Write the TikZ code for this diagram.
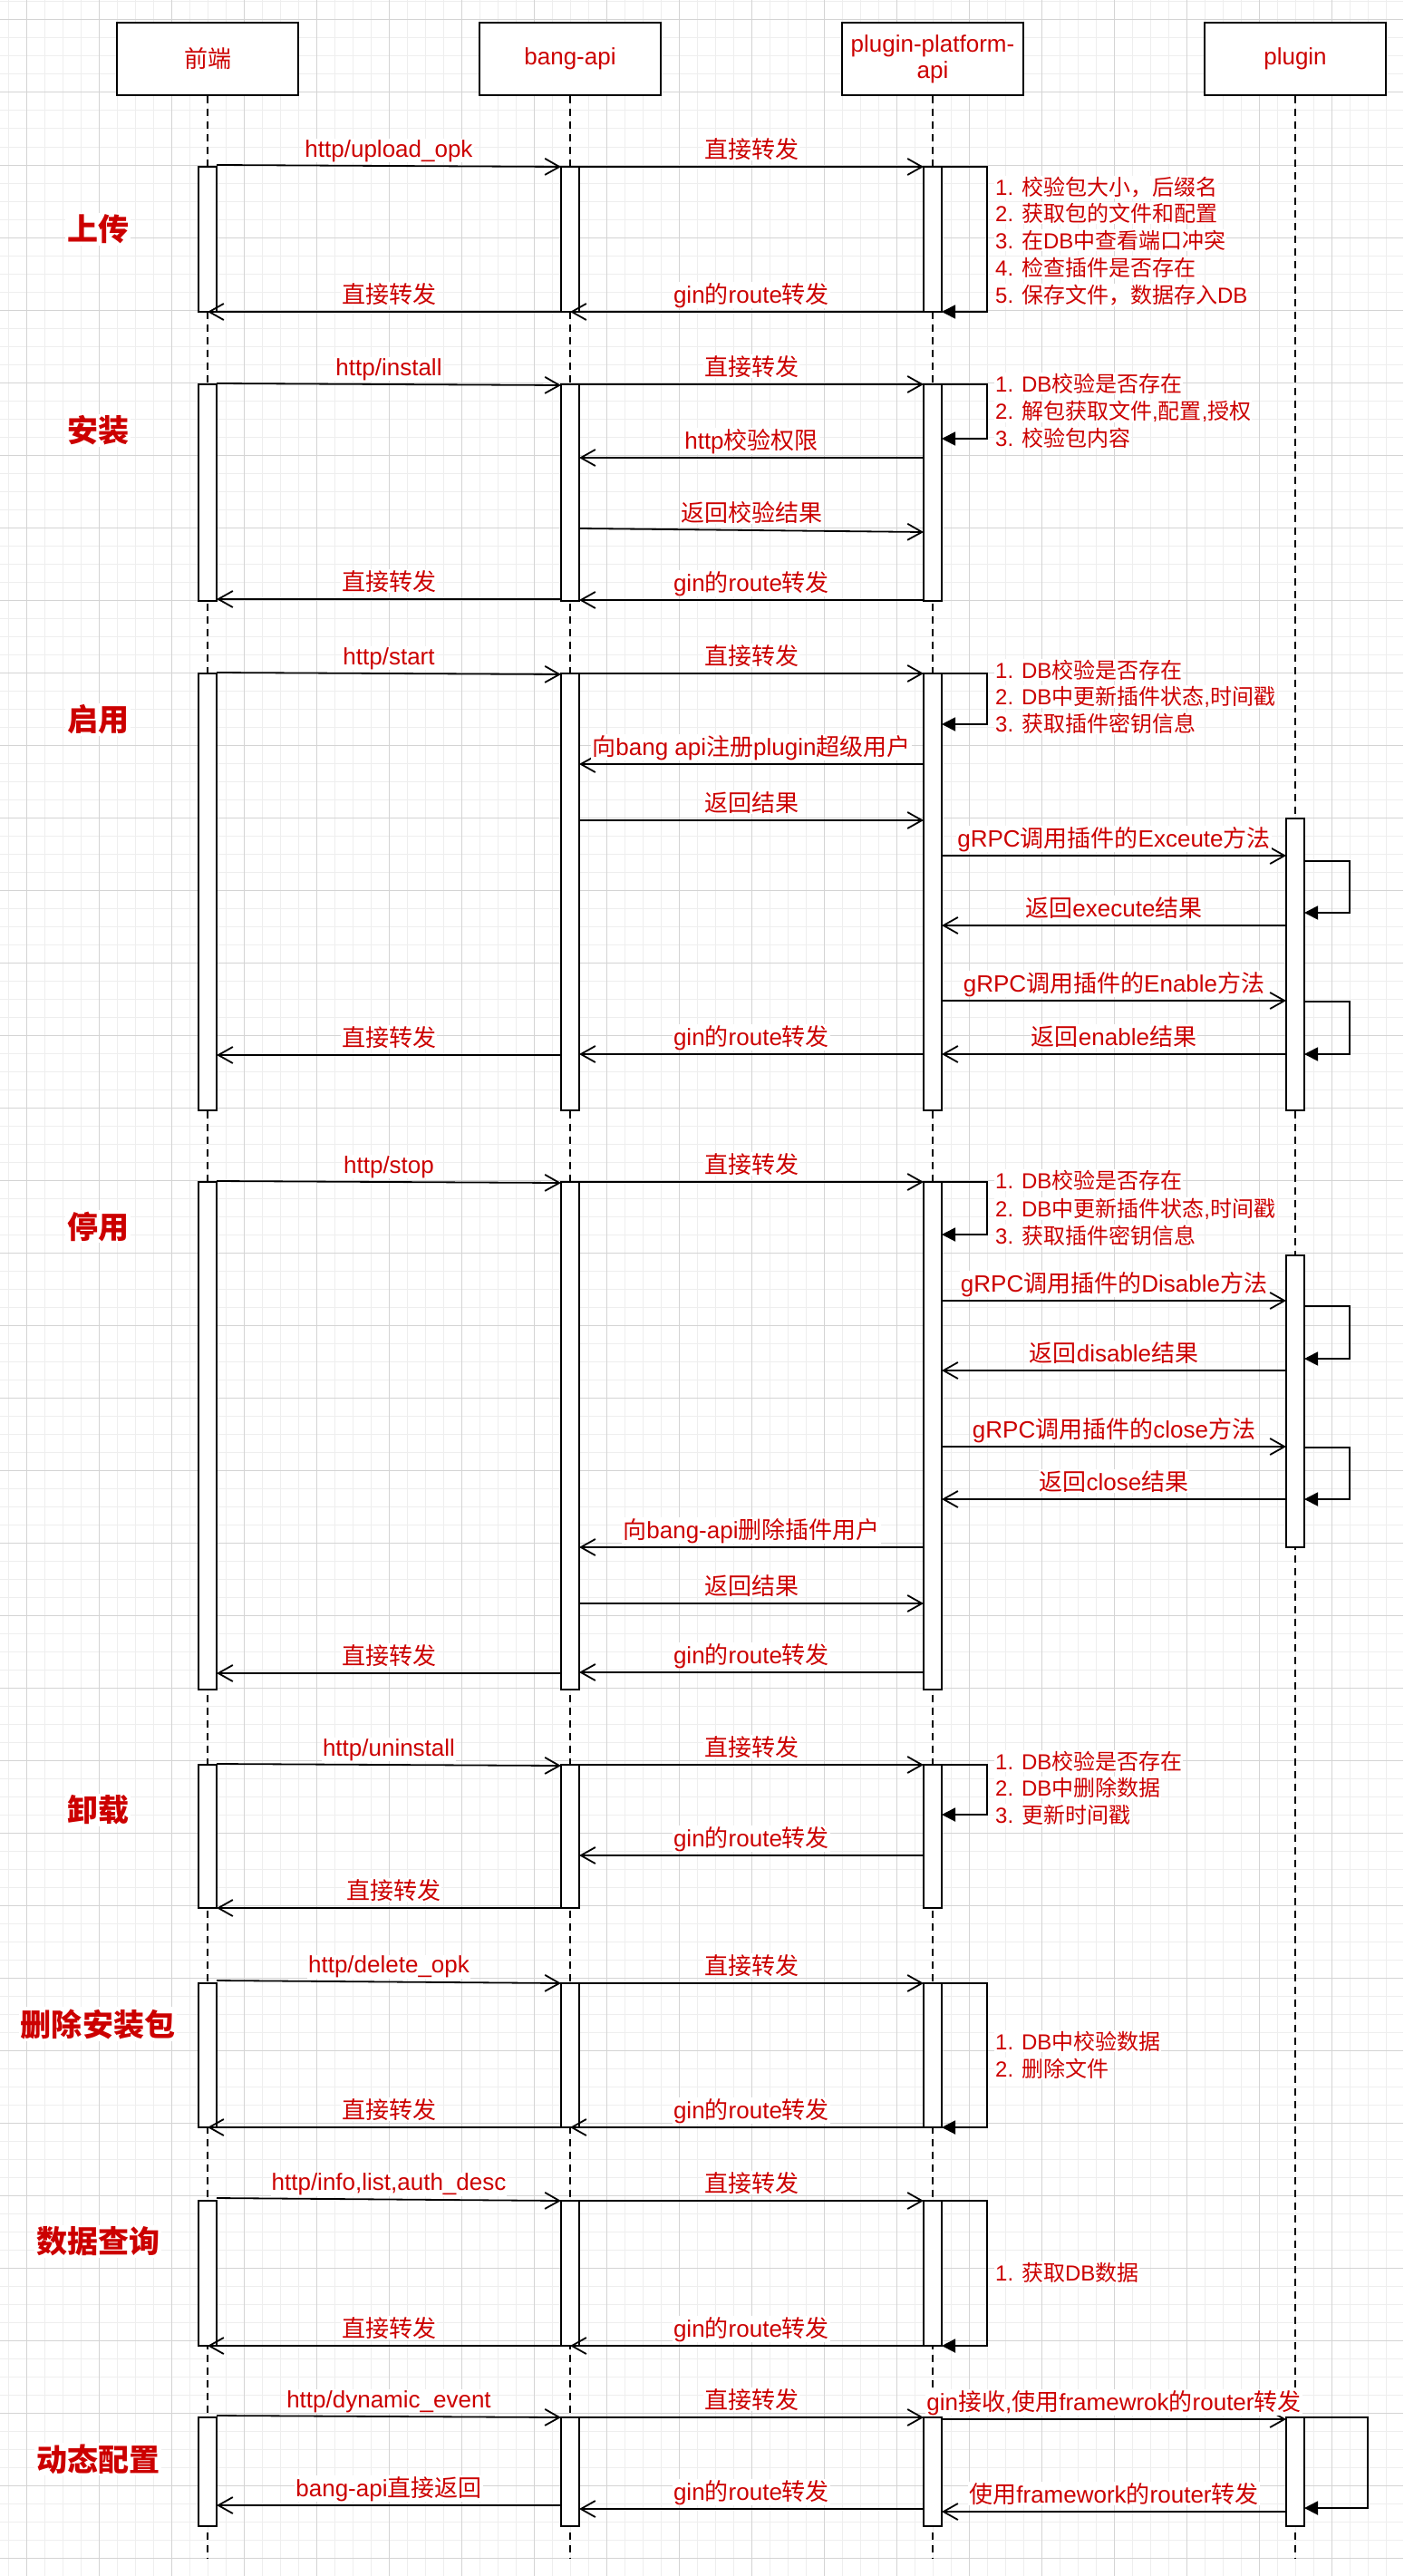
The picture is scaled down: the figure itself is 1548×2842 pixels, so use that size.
\documentclass[tikz,border=0pt]{standalone}
\usepackage{fontspec}
\setmainfont{Liberation Sans}
\newfontfamily\cjk{Noto Sans CJK SC}
\usetikzlibrary{arrows.meta}
\definecolor{txtred}{HTML}{CC0000}
\definecolor{gridmin}{HTML}{EEEEEE}
\definecolor{gridmaj}{HTML}{D4D4D4}
\newcommand\zh[1]{{\cjk #1}}
\newcommand\actbar[4]{\node[actbar, minimum height={#4pt-#3pt}] (#1) at (#2,#3) {};}
\newcommand\selfloop[4]{\draw[selfc] (#1.east |- 0,#2) -- ++(#4,0) |- (#1.east |- 0,#3);}
\begin{document}
\begin{tikzpicture}[x=1pt,y=-1pt,
  hdr/.style={draw=black, line width=1.8pt, fill=white, minimum width=200pt, minimum height=80pt, inner sep=0pt, text=txtred, font=\fontsize{26}{29}\selectfont, align=center},
  life/.style={draw=black, dash pattern=on 8pt off 6pt, line width=1.5pt},
  actbar/.style={draw=black, line width=1.8pt, fill=white, minimum width=20pt, inner sep=0pt, outer sep=0pt, anchor=north},
  msg/.style={draw=black, line width=1.8pt, -{Straight Barb[length=16pt,width=18pt]}},
  selfc/.style={draw=black, line width=1.8pt, -{Triangle[length=15pt,width=15pt]}},
  lbl/.style={fill=white, text=txtred, font=\fontsize{26}{30}\selectfont, inner sep=1pt, anchor=base, yshift=10pt},
  note/.style={fill=white, text=txtred, font=\fontsize{24}{30}\selectfont, inner sep=1pt, anchor=base west},
  sect/.style={fill=white, text=txtred, font=\fontsize{34}{40}\selectfont\bfseries, inner sep=2pt},
  gmin/.style={draw=gridmin, line width=1pt},
  gmaj/.style={draw=gridmaj, line width=1pt}
]
\useasboundingbox (0,0) rectangle (1548,2842);
\fill[white] (0,0) rectangle (1548,2842);
% grid
\foreach \x in {9,29,...,1548} \draw[gmin] (\x,0) -- (\x,2842);
\foreach \y in {2,22,...,2842} \draw[gmin] (0,\y) -- (1548,\y);
\foreach \x in {29,109,...,1548} \draw[gmaj] (\x,0) -- (\x,2842);
\foreach \y in {22,102,...,2842} \draw[gmaj] (0,\y) -- (1548,\y);

% headers
\node[hdr] (h1) at (229,65) {\zh{前端}};
\node[hdr] (h2) at (629,65) {bang-api};
\node[hdr] (h3) at (1029,65) {plugin-platform-\\api};
\node[hdr] (h4) at (1429,65) {plugin};
\coordinate (e1) at (229,2822);
\coordinate (e2) at (629,2822);
\coordinate (e3) at (1029,2822);
\coordinate (e4) at (1429,2822);
\draw[life] (h1.south) -- (e1);
\draw[life] (h2.south) -- (e2);
\draw[life] (h3.south) -- (e3);
\draw[life] (h4.south) -- (e4);

% section titles
\node[sect] (T1) at (108,253) {\zh{上传}};
\node[sect] (T2) at (108,475) {\zh{安装}};
\node[sect] (T3) at (108,794) {\zh{启用}};
\node[sect] (T4) at (108,1353) {\zh{停用}};
\node[sect] (T5) at (108,1997) {\zh{卸载}};
\node[sect] (T6) at (108,2233) {\zh{删除安装包}};
\node[sect] (T7) at (108,2473) {\zh{数据查询}};
\node[sect] (T8) at (108,2713) {\zh{动态配置}};

% ===== upload =====
\actbar{u1}{229}{184}{344}
\actbar{u2}{629}{184}{344}
\actbar{u3}{1029}{184}{344}
\draw[msg] (u1.east |- 0,182) -- node[lbl] (lu1) {http/upload\_opk} (u2.west |- 0,184);
\draw[msg] (u2.east |- 0,184) -- node[lbl] (lu2) {\zh{直接转发}} (u3.west |- 0,184);
\selfloop{u3}{184}{344}{50}
\node[note] (nu1) at (1097,215) {1. \zh{校验包大小，后缀名}};
\node[note] (nu2) at (1097,244) {2. \zh{获取包的文件和配置}};
\node[note] (nu3) at (1097,274) {3. \zh{在}DB\zh{中查看端口冲突}};
\node[note] (nu4) at (1097,304) {4. \zh{检查插件是否存在}};
\node[note] (nu5) at (1097,334) {5. \zh{保存文件，数据存入}DB};
\draw[msg] (u3.south) -- node[lbl] (lu3) {gin\zh{的}route\zh{转发}} (u2.south);
\draw[msg] (u2.south) -- node[lbl] (lu4) {\zh{直接转发}} (u1.south);

% ===== install =====
\actbar{i1}{229}{424}{663}
\actbar{i2}{629}{424}{663}
\actbar{i3}{1029}{424}{663}
\draw[msg] (i1.east |- 0,423) -- node[lbl] (li1) {http/install} (i2.west |- 0,425);
\draw[msg] (i2.east |- 0,424) -- node[lbl] (li2) {\zh{直接转发}} (i3.west |- 0,424);
\selfloop{i3}{424}{484}{50}
\node[note] (ni1) at (1097,432) {1. DB\zh{校验是否存在}};
\node[note] (ni2) at (1097,462) {2. \zh{解包获取文件}{,}\zh{配置}{,}\zh{授权}};
\node[note] (ni3) at (1097,492) {3. \zh{校验包内容}};
\draw[msg] (i3.west |- 0,505) -- node[lbl] (li3) {http\zh{校验权限}} (i2.east |- 0,505);
\draw[msg] (i2.east |- 0,583) -- node[lbl] (li4) {\zh{返回校验结果}} (i3.west |- 0,587);
\draw[msg] (i3.west |- 0,662) -- node[lbl] (li5) {gin\zh{的}route\zh{转发}} (i2.east |- 0,662);
\draw[msg] (i2.west |- 0,661) -- node[lbl] (li6) {\zh{直接转发}} (i1.east |- 0,661);

% ===== start =====
\actbar{s1}{229}{743}{1225}
\actbar{s2}{629}{743}{1225}
\actbar{s3}{1029}{743}{1225}
\actbar{s4}{1429}{903}{1225}
\draw[msg] (s1.east |- 0,742) -- node[lbl] (ls1) {http/start} (s2.west |- 0,744);
\draw[msg] (s2.east |- 0,743) -- node[lbl] (ls2) {\zh{直接转发}} (s3.west |- 0,743);
\selfloop{s3}{743}{799}{50}
\node[note] (ns1) at (1097,748) {1. DB\zh{校验是否存在}};
\node[note] (ns2) at (1097,777) {2. DB\zh{中更新插件状态}{,}\zh{时间戳}};
\node[note] (ns3) at (1097,807) {3. \zh{获取插件密钥信息}};
\draw[msg] (s3.west |- 0,843) -- node[lbl] (ls3) {\zh{向}bang api\zh{注册}plugin\zh{超级用户}} (s2.east |- 0,843);
\draw[msg] (s2.east |- 0,905) -- node[lbl] (ls4) {\zh{返回结果}} (s3.west |- 0,905);
\draw[msg] (s3.east |- 0,944) -- node[lbl] (ls5) {gRPC\zh{调用插件的}Exceute\zh{方法}} (s4.west |- 0,944);
\selfloop{s4}{950}{1007}{50}
\draw[msg] (s4.west |- 0,1021) -- node[lbl] (ls6) {\zh{返回}execute\zh{结果}} (s3.east |- 0,1021);
\draw[msg] (s3.east |- 0,1104) -- node[lbl] (ls7) {gRPC\zh{调用插件的}Enable\zh{方法}} (s4.west |- 0,1104);
\selfloop{s4}{1105}{1163}{50}
\draw[msg] (s4.west |- 0,1163) -- node[lbl] (ls8) {\zh{返回}enable\zh{结果}} (s3.east |- 0,1163);
\draw[msg] (s3.west |- 0,1163) -- node[lbl] (ls9) {gin\zh{的}route\zh{转发}} (s2.east |- 0,1163);
\draw[msg] (s2.west |- 0,1164) -- node[lbl] (ls10) {\zh{直接转发}} (s1.east |- 0,1164);

% ===== stop =====
\actbar{p1}{229}{1304}{1864}
\actbar{p2}{629}{1304}{1864}
\actbar{p3}{1029}{1304}{1864}
\actbar{p4}{1429}{1385}{1707}
\draw[msg] (p1.east |- 0,1303) -- node[lbl] (lp1) {http/stop} (p2.west |- 0,1305);
\draw[msg] (p2.east |- 0,1304) -- node[lbl] (lp2) {\zh{直接转发}} (p3.west |- 0,1304);
\selfloop{p3}{1304}{1362}{50}
\node[note] (np1) at (1097,1311) {1. DB\zh{校验是否存在}};
\node[note] (np2) at (1097,1342) {2. DB\zh{中更新插件状态}{,}\zh{时间戳}};
\node[note] (np3) at (1097,1372) {3. \zh{获取插件密钥信息}};
\draw[msg] (p3.east |- 0,1435) -- node[lbl] (lp3) {gRPC\zh{调用插件的}Disable\zh{方法}} (p4.west |- 0,1435);
\selfloop{p4}{1441}{1499}{50}
\draw[msg] (p4.west |- 0,1512) -- node[lbl] (lp4) {\zh{返回}disable\zh{结果}} (p3.east |- 0,1512);
\draw[msg] (p3.east |- 0,1596) -- node[lbl] (lp5) {gRPC\zh{调用插件的}close\zh{方法}} (p4.west |- 0,1596);
\selfloop{p4}{1597}{1654}{50}
\draw[msg] (p4.west |- 0,1654) -- node[lbl] (lp6) {\zh{返回}close\zh{结果}} (p3.east |- 0,1654);
\draw[msg] (p3.west |- 0,1707) -- node[lbl] (lp7) {\zh{向}bang-api\zh{删除插件用户}} (p2.east |- 0,1707);
\draw[msg] (p2.east |- 0,1769) -- node[lbl] (lp8) {\zh{返回结果}} (p3.west |- 0,1769);
\draw[msg] (p3.west |- 0,1845) -- node[lbl] (lp9) {gin\zh{的}route\zh{转发}} (p2.east |- 0,1845);
\draw[msg] (p2.west |- 0,1846) -- node[lbl] (lp10) {\zh{直接转发}} (p1.east |- 0,1846);

% ===== uninstall =====
\actbar{x1}{229}{1947}{2105}
\actbar{x2}{629}{1947}{2105}
\actbar{x3}{1029}{1947}{2105}
\draw[msg] (x1.east |- 0,1946) -- node[lbl] (lx1) {http/uninstall} (x2.west |- 0,1948);
\draw[msg] (x2.east |- 0,1947) -- node[lbl] (lx2) {\zh{直接转发}} (x3.west |- 0,1947);
\selfloop{x3}{1947}{2002}{50}
\node[note] (nx1) at (1097,1952) {1. DB\zh{校验是否存在}};
\node[note] (nx2) at (1097,1981) {2. DB\zh{中删除数据}};
\node[note] (nx3) at (1097,2011) {3. \zh{更新时间戳}};
\draw[msg] (x3.west |- 0,2047) -- node[lbl] (lx3) {gin\zh{的}route\zh{转发}} (x2.east |- 0,2047);
\draw[msg] (x2.south) -- node[lbl] (lx4) {\zh{直接转发}} (x1.south east);

% ===== delete =====
\actbar{d1}{229}{2188}{2347}
\actbar{d2}{629}{2188}{2347}
\actbar{d3}{1029}{2188}{2347}
\draw[msg] (d1.east |- 0,2185) -- node[lbl] (ld1) {http/delete\_opk} (d2.west |- 0,2188);
\draw[msg] (d2.east |- 0,2188) -- node[lbl] (ld2) {\zh{直接转发}} (d3.west |- 0,2188);
\selfloop{d3}{2188}{2347}{50}
\node[note] (nd1) at (1097,2261) {1. DB\zh{中校验数据}};
\node[note] (nd2) at (1097,2291) {2. \zh{删除文件}};
\draw[msg] (d3.south) -- node[lbl] (ld3) {gin\zh{的}route\zh{转发}} (d2.south);
\draw[msg] (d2.south) -- node[lbl] (ld4) {\zh{直接转发}} (d1.south);

% ===== query =====
\actbar{q1}{229}{2428}{2588}
\actbar{q2}{629}{2428}{2588}
\actbar{q3}{1029}{2428}{2588}
\draw[msg] (q1.east |- 0,2425) -- node[lbl] (lq1) {http/info,list,auth\_desc} (q2.west |- 0,2428);
\draw[msg] (q2.east |- 0,2428) -- node[lbl] (lq2) {\zh{直接转发}} (q3.west |- 0,2428);
\selfloop{q3}{2428}{2588}{50}
\node[note] (nq1) at (1097,2516) {1. \zh{获取}DB\zh{数据}};
\draw[msg] (q3.south) -- node[lbl] (lq3) {gin\zh{的}route\zh{转发}} (q2.south);
\draw[msg] (q2.south) -- node[lbl] (lq4) {\zh{直接转发}} (q1.south);

% ===== dynamic =====
\actbar{y1}{229}{2667}{2787}
\actbar{y2}{629}{2667}{2787}
\actbar{y3}{1029}{2667}{2787}
\actbar{y4}{1429}{2667}{2787}
\draw[msg] (y1.east |- 0,2665) -- node[lbl] (ly1) {http/dynamic\_event} (y2.west |- 0,2667);
\draw[msg] (y2.east |- 0,2667) -- node[lbl] (ly2) {\zh{直接转发}} (y3.west |- 0,2667);
\draw[msg] (y3.east |- 0,2669) -- node[lbl] (ly3) {gin\zh{接收}{,}\zh{使用}framewrok\zh{的}router\zh{转发}} (y4.west |- 0,2669);
\selfloop{y4}{2667}{2767}{70}
\draw[msg] (y4.west |- 0,2771) -- node[lbl] (ly4) {\zh{使用}framework\zh{的}router\zh{转发}} (y3.east |- 0,2771);
\draw[msg] (y3.west |- 0,2768) -- node[lbl] (ly5) {gin\zh{的}route\zh{转发}} (y2.east |- 0,2768);
\draw[msg] (y2.west |- 0,2764) -- node[lbl] (ly6) {bang-api\zh{直接返回}} (y1.east |- 0,2764);
\end{tikzpicture}
\end{document}
